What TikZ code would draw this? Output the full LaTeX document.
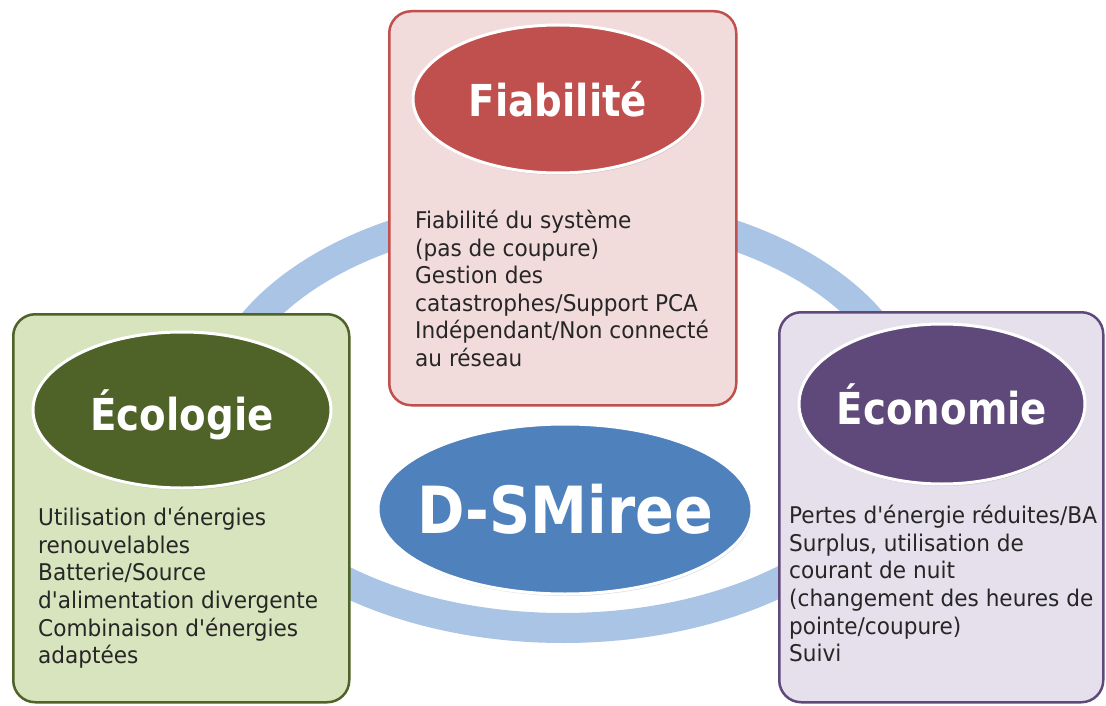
\documentclass[tikz,border=0pt]{standalone}
\usepackage{fontspec}
\setmainfont{DejaVu Sans}[FakeStretch=0.94, Ligatures=TeXOff]
\newfontfamily\headfont{DejaVu Sans}[FakeStretch=0.88]
\usetikzlibrary{shapes.geometric,shadows}
\definecolor{ringblue}{RGB}{170,196,229}
\definecolor{redhead}{RGB}{192,80,77}
\definecolor{redfill}{RGB}{242,220,219}
\definecolor{greenhead}{RGB}{79,98,40}
\definecolor{greenfill}{RGB}{215,228,189}
\definecolor{greenline}{RGB}{79,98,40}
\definecolor{purplehead}{RGB}{95,73,122}
\definecolor{purplefill}{RGB}{229,224,236}
\definecolor{centerblue}{RGB}{79,129,189}
\tikzset{
  ring/.style={draw=ringblue, line width=30pt},
  panel/.style={rectangle, rounded corners=22pt, line width=2.5pt, anchor=north west, inner sep=0pt},
  head/.style={ellipse, draw=white, line width=3pt, inner sep=0pt,
    drop shadow={opacity=0.25, shadow xshift=1pt, shadow yshift=-2pt}},
  headtext/.style={text=white, inner sep=0pt, text depth=0pt,
    font={\headfont\bfseries\fontsize{44}{50}\selectfont}},
  body/.style={anchor=north west, align=left, inner sep=0pt, text=black!85,
    font={\fontsize{23}{27.6}\selectfont}}
}
\begin{document}
\begin{tikzpicture}[x=1pt,y=-1pt]
\useasboundingbox (0,0) rectangle (1106,706);
\fill[white] (0,0) rectangle (1106,706);

% background ring
\draw[ring] (563,418) ellipse [x radius=347, y radius=210];

% panels
\node[panel, draw=redhead, fill=redfill, minimum width=347pt, minimum height=394pt] (fiabbox) at (388,10) {};
\node[panel, draw=greenline, fill=greenfill, minimum width=336pt, minimum height=388pt] (ecolbox) at (12,313) {};
\node[panel, draw=purplehead, fill=purplefill, minimum width=324pt, minimum height=390pt] (econbox) at (778,311) {};

% headings
\node[head, fill=redhead, minimum width=290pt, minimum height=148pt] (fiab) at (558,99) {};
\node[headtext] (fiablbl) at (fiab.center) {Fiabilité};
\node[head, fill=greenhead, minimum width=298pt, minimum height=156pt] (ecol) at (182,410) {};
\node[headtext] (ecollbl) at (ecol.center) {Écologie};
\node[head, fill=purplehead, minimum width=286pt, minimum height=160pt] (econ) at (942,404) {};
\node[headtext] (econlbl) at (econ.center) {Économie};

% centre
\node[head, fill=centerblue, minimum width=374pt, minimum height=170pt] (dsm) at (565,509) {};
\node[headtext, font={\headfont\bfseries\fontsize{65}{72}\selectfont}] (dsmlbl) at (dsm.center) {D-SMiree};

% texts
\node[body] (fiabtxt) at (415,210) {Fiabilité du système\\(pas de coupure)\\Gestion des\\catastrophes/Support PCA\\Indépendant/Non connecté\\au réseau};
\node[body] (ecoltxt) at (38,507) {Utilisation d'énergies\\renouvelables\\Batterie/Source\\d'alimentation divergente\\Combinaison d'énergies\\adaptées};
\node[body] (econtxt) at (789,505) {Pertes d'énergie réduites/BA\\Surplus, utilisation de\\courant de nuit\\(changement des heures de\\pointe/coupure)\\Suivi};
\end{tikzpicture}
\end{document}
